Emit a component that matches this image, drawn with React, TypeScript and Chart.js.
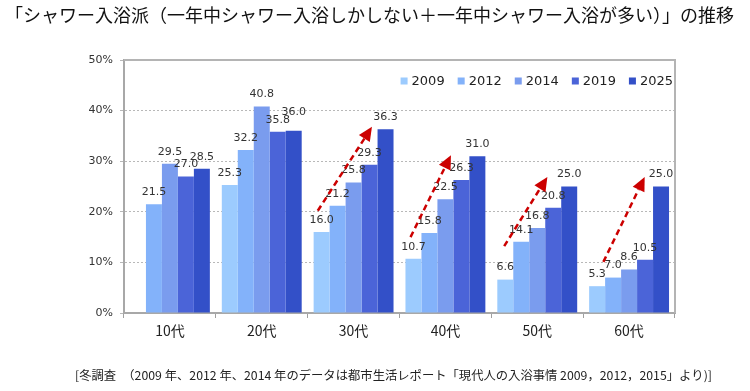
import React, { useEffect, useRef } from "react";
import { Chart, registerables } from "chart.js";

Chart.register(...registerables);

const TITLE = "「シャワー入浴派（一年中シャワー入浴しかしない＋一年中シャワー入浴が多い）」の推移";
const FOOTNOTE = "[冬調査　（2009 年、2012 年、2014 年のデータは都市生活レポート「現代人の入浴事情 2009，2012，2015」より)]";

const categories = ["10代", "20代", "30代", "40代", "50代", "60代"];
const years = ["2009", "2012", "2014", "2019", "2025"];
const v2009 = [null, 25.3, 16.0, 10.7, 6.6, 5.3];
const v2012 = [21.5, 32.2, 21.2, 15.8, 14.1, 7.0];
const v2014 = [29.5, 40.8, 25.8, 22.5, 16.8, 8.6];
const v2019 = [27.0, 35.8, 29.3, 26.3, 20.8, 10.5];
const v2025 = [28.5, 36.0, 36.3, 31.0, 25.0, 25.0];
const colors = ["#9ccbfe", "#83b2fa", "#7a9cee", "#4b64d8", "#3350c8"];
const yTicks = [0, 10, 20, 30, 40, 50];

// labels lifted higher to avoid overlap: [dataset index, category index, extra lift px]
const labelLifts = [[4, 1, 7]];

// trend arrows: category index, start/end as [offset in category widths, value %]
const arrows = [
  { cat: 2, from: [-0.39, 20.2], to: [0.2, 36.8] },
  { cat: 3, from: [-0.38, 15.0], to: [0.06, 31.2] },
  { cat: 4, from: [-0.36, 13.2], to: [0.11, 26.9] },
  { cat: 5, from: [-0.28, 10.1], to: [0.17, 26.9] },
];

const seriesValues = [v2009, v2012, v2014, v2019, v2025];

const overlayPlugin = {
  id: "overlay",
  beforeDraw(chart: any) {
    const ctx = chart.ctx;
    ctx.save();
    ctx.fillStyle = "#ffffff";
    ctx.fillRect(0, 0, chart.width, chart.height);
    ctx.restore();
  },
  afterDatasetsDraw(chart: any) {
    const ctx = chart.ctx;
    const ca = chart.chartArea;
    const xs = chart.scales.x;
    const ys = chart.scales.y;
    ctx.save();
    // frame (top and right)
    ctx.strokeStyle = "#b4b4b4";
    ctx.lineWidth = 2;
    ctx.beginPath();
    ctx.moveTo(ca.left, ca.top);
    ctx.lineTo(ca.right, ca.top);
    ctx.lineTo(ca.right, ca.bottom);
    ctx.stroke();

    // value labels
    ctx.font = "11px 'DejaVu Sans'";
    ctx.fillStyle = "#333333";
    ctx.textAlign = "center";
    ctx.textBaseline = "middle";
    chart.data.datasets.forEach((ds: any, di: number) => {
      const meta = chart.getDatasetMeta(di);
      meta.data.forEach((el: any, i: number) => {
        const v = ds.data[i];
        if (v === null || v === undefined) return;
        const lift = labelLifts.find((l) => l[0] === di && l[1] === i);
        const extra = lift ? lift[2] : 0;
        ctx.fillText(v.toFixed(1), el.x, el.y - 12 - extra);
      });
    });

    // arrows
    const cw = xs.getPixelForValue(1) - xs.getPixelForValue(0);
    arrows.forEach((a) => {
      const cx = xs.getPixelForValue(a.cat);
      const x1 = cx + a.from[0] * cw;
      const y1 = ys.getPixelForValue(a.from[1]);
      const x2 = cx + a.to[0] * cw;
      const y2 = ys.getPixelForValue(a.to[1]);
      const ang = Math.atan2(y2 - y1, x2 - x1);
      const headLen = 14;
      const headW = 6.5;
      const bx = x2 - headLen * Math.cos(ang);
      const by = y2 - headLen * Math.sin(ang);
      ctx.strokeStyle = "#cc0000";
      ctx.fillStyle = "#cc0000";
      ctx.lineWidth = 2.5;
      ctx.setLineDash([6, 4]);
      ctx.beginPath();
      ctx.moveTo(x1, y1);
      ctx.lineTo(bx, by);
      ctx.stroke();
      ctx.setLineDash([]);
      ctx.beginPath();
      ctx.moveTo(x2, y2);
      ctx.lineTo(bx + headW * Math.sin(ang), by - headW * Math.cos(ang));
      ctx.lineTo(bx - headW * Math.sin(ang), by + headW * Math.cos(ang));
      ctx.closePath();
      ctx.fill();
    });

    // legend
    ctx.font = "13px 'DejaVu Sans'";
    ctx.textAlign = "left";
    ctx.textBaseline = "middle";
    const box = 7;
    const gap = 4;
    const spacing = 13;
    const widths = years.map((y) => box + gap + ctx.measureText(y).width);
    const total = widths.reduce((s, w) => s + w, 0) + spacing * (years.length - 1);
    let lx = ca.right - 2 - total;
    const ly = ca.top + 21;
    years.forEach((y, i) => {
      ctx.fillStyle = colors[i];
      ctx.fillRect(lx, ly - box / 2, box, box);
      ctx.fillStyle = "#222222";
      ctx.fillText(y, lx + box + gap, ly + 1);
      lx += widths[i] + spacing;
    });

    // title
    ctx.fillStyle = "#111111";
    ctx.font = "18px 'Noto Sans CJK JP'";
    ctx.textAlign = "left";
    ctx.textBaseline = "middle";
    ctx.fillText(TITLE, 5, 15);

    // footnote
    ctx.font = "12px 'Noto Sans CJK JP'";
    const fw = ctx.measureText(FOOTNOTE).width;
    const target = 637;
    ctx.translate(75, 375);
    ctx.scale(target / fw, 1);
    ctx.fillStyle = "#222222";
    ctx.fillText(FOOTNOTE, 0, 0);
    ctx.restore();
  },
};

export default function App() {
  const ref = useRef<HTMLCanvasElement | null>(null);
  useEffect(() => {
    if (!ref.current) return;
    const chart = new Chart(ref.current, {
      type: "bar",
      data: {
        labels: categories,
        datasets: years.map((y, i) => ({
          label: y,
          data: seriesValues[i] as any,
          backgroundColor: colors[i],
          borderWidth: 0,
          categoryPercentage: 0.87,
          barPercentage: 1.0,
        })),
      },
      options: {
        responsive: false,
        animation: false,
        devicePixelRatio: 1,
        layout: { padding: { left: 0, right: 75, top: 60, bottom: 0 } },
        plugins: {
          legend: { display: false },
          title: { display: false },
          tooltip: { enabled: false },
        },
        scales: {
          x: {
            offset: true,
            grid: {
              offset: true,
              drawOnChartArea: false,
              drawTicks: true,
              tickLength: 5,
              color: "#a0a0a0",
              lineWidth: 1,
            },
            border: { display: true, color: "#a8a8a8", width: 2 },
            ticks: {
              font: { family: "'Noto Sans CJK JP'", size: 14 },
              color: "#222222",
              padding: 4,
            },
            afterFit: (s: any) => {
              s.height = 78;
            },
          },
          y: {
            min: 0,
            max: 50,
            afterBuildTicks: (s: any) => {
              s.ticks = yTicks.map((v) => ({ value: v }));
            },
            grid: {
              color: "#b8b8b8",
              lineWidth: 1,
              tickLength: 4,
            },
            border: { display: true, color: "#a8a8a8", width: 2, dash: [2, 2] },
            ticks: {
              font: { family: "'DejaVu Sans'", size: 11 },
              color: "#333333",
              padding: 7,
              callback: (v: any) => v + "%",
            },
            afterFit: (s: any) => {
              s.width = 124;
            },
          },
        },
      },
      plugins: [overlayPlugin],
    });
    return () => chart.destroy();
  }, []);
  return (
    <div style={{ position: "absolute", left: 0, top: 0, width: 750, height: 391 }}>
      <canvas ref={ref} width={750} height={391} style={{ display: "block" }} />
    </div>
  );
}
